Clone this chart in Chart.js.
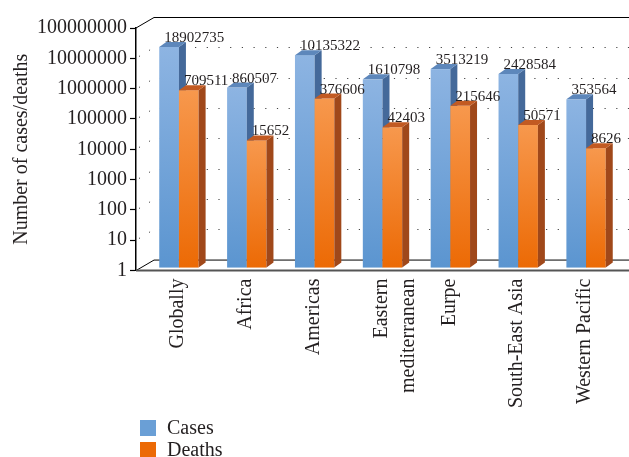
<!DOCTYPE html>
<html>
<head>
<meta charset="utf-8">
<script src="https://cdn.jsdelivr.net/npm/chart.js@4.4.0/dist/chart.umd.min.js"></script>
<style>
  html, body { margin: 0; padding: 0; background: #fff; }
  #wrap { width: 629px; height: 457px; }
</style>
</head>
<body>
<div id="wrap"><canvas id="chart" width="629" height="457"></canvas></div>
<script>
// data
const regions = ['Globally', 'Africa', 'Americas', ['Eastern', 'mediterranean'], 'Eurpe', 'South-East Asia', 'Western Pacific'];
const cases = [18902735, 860507, 10135322, 1610798, 3513219, 2428584, 353564];
const deaths = [709511, 15652, 376606, 42403, 215646, 50571, 8626];
const yTicks = [1, 10, 100, 1000, 10000, 100000, 1000000, 10000000, 100000000];

const FONT = "'Liberation Serif', 'Times New Roman', serif";
const TEXT = '#231F20';

// fake 3D: wall depth, bar shift into the box, bar thickness
const WALL = { dx: 18, dy: -11 };
const SHIFT = { dx: 9, dy: -3 };
const DEPTH = { dx: 7, dy: -5 };

const barStyles = [
  { light: '#8DB4E2', dark: '#5B95D0', side: '#44699A', cap: '#5D87BB', legend: '#6A9FD6' },
  { light: '#F7984D', dark: '#EC6A05', side: '#A0481A', cap: '#C25A22', legend: '#EC6A05' }
];

function barBox(el) {
  const p = el.getProps(['x', 'y', 'base', 'width'], true);
  const left = p.x - p.width / 2 + SHIFT.dx;
  return { left: left, right: left + p.width, top: p.y + SHIFT.dy, bottom: p.base + SHIFT.dy };
}

const wallsPlugin = {
  id: 'walls',
  beforeDatasetsDraw(chart) {
    const ctx = chart.ctx, ca = chart.chartArea, y = chart.scales.y;
    const right = chart.width;
    ctx.save();
    // dotted gridlines on side and back wall
    ctx.strokeStyle = '#444';
    ctx.lineWidth = 1;
    ctx.setLineDash([1.2, 10.5]);
    yTicks.slice(1, -1).forEach(v => {
      const py = Math.round(y.getPixelForValue(v)) + 0.5;
      ctx.beginPath();
      ctx.moveTo(ca.left + 3, py - 2);
      ctx.lineTo(ca.left + WALL.dx, py + WALL.dy);
      ctx.lineTo(right, py + WALL.dy);
      ctx.stroke();
    });
    ctx.setLineDash([]);
    // top frame
    ctx.strokeStyle = '#000';
    ctx.beginPath();
    ctx.moveTo(ca.left, ca.top);
    ctx.lineTo(ca.left + WALL.dx, ca.top + WALL.dy + 0.5);
    ctx.lineTo(right, ca.top + WALL.dy + 0.5);
    ctx.stroke();
    // floor
    ctx.beginPath();
    ctx.moveTo(ca.left, ca.bottom);
    ctx.lineTo(ca.left + WALL.dx, ca.bottom + WALL.dy + 0.5);
    ctx.lineTo(right, ca.bottom + WALL.dy + 0.5);
    ctx.stroke();
    ctx.strokeStyle = '#555';
    ctx.lineWidth = 2;
    ctx.beginPath();
    ctx.moveTo(ca.left, ca.bottom);
    ctx.lineTo(right, ca.bottom);
    ctx.stroke();
    ctx.restore();
  },
  // 3D boxes, series by series so the orange fronts cover the blue sides
  afterDatasetsDraw(chart) {
    const ctx = chart.ctx;
    ctx.save();
    chart.data.datasets.forEach((ds, i) => {
      const st = barStyles[i];
      chart.getDatasetMeta(i).data.forEach(el => {
        const b = barBox(el);
        const g = ctx.createLinearGradient(0, b.top, 0, b.bottom);
        g.addColorStop(0, st.light);
        g.addColorStop(1, st.dark);
        ctx.fillStyle = g;
        ctx.fillRect(b.left, b.top, b.right - b.left, b.bottom - b.top);
        ctx.fillStyle = st.side;
        ctx.beginPath();
        ctx.moveTo(b.right, b.top);
        ctx.lineTo(b.right + DEPTH.dx, b.top + DEPTH.dy);
        ctx.lineTo(b.right + DEPTH.dx, b.bottom + DEPTH.dy);
        ctx.lineTo(b.right, b.bottom);
        ctx.closePath();
        ctx.fill();
        ctx.fillStyle = st.cap;
        ctx.beginPath();
        ctx.moveTo(b.left, b.top);
        ctx.lineTo(b.left + DEPTH.dx, b.top + DEPTH.dy);
        ctx.lineTo(b.right + DEPTH.dx, b.top + DEPTH.dy);
        ctx.lineTo(b.right, b.top);
        ctx.closePath();
        ctx.fill();
      });
    });
    // value labels
    ctx.font = '15px ' + FONT;
    ctx.fillStyle = TEXT;
    ctx.textAlign = 'left';
    ctx.textBaseline = 'alphabetic';
    chart.data.datasets.forEach((ds, i) => {
      chart.getDatasetMeta(i).data.forEach((el, j) => {
        const b = barBox(el);
        ctx.fillText(String(ds.data[j]), b.left + 5, b.top - 5);
      });
    });
    ctx.restore();
  }
};

const legendPlugin = {
  id: 'stackedLegend',
  afterDraw(chart) {
    const ctx = chart.ctx;
    ctx.save();
    ctx.font = '20px ' + FONT;
    ctx.textBaseline = 'middle';
    ctx.textAlign = 'left';
    chart.data.datasets.forEach((ds, i) => {
      const cy = 428 + i * 22;
      ctx.fillStyle = barStyles[i].legend;
      ctx.fillRect(140, cy - 8, 16, 16);
      ctx.fillStyle = TEXT;
      ctx.fillText(ds.label, 167, cy + 1);
    });
    ctx.restore();
  }
};

new Chart(document.getElementById('chart'), {
  type: 'bar',
  data: {
    labels: regions,
    datasets: [
      { label: 'Cases', data: cases, backgroundColor: 'rgba(0,0,0,0)', borderWidth: 0 },
      { label: 'Deaths', data: deaths, backgroundColor: 'rgba(0,0,0,0)', borderWidth: 0 }
    ]
  },
  options: {
    responsive: false,
    animation: false,
    devicePixelRatio: 1,
    categoryPercentage: 0.58,
    barPercentage: 1,
    layout: { padding: { left: 10, right: 18, top: 28, bottom: 49 } },
    plugins: { legend: { display: false }, tooltip: { enabled: false } },
    scales: {
      x: {
        grid: { display: false },
        border: { display: false },
        ticks: {
          autoSkip: false, maxRotation: 90, minRotation: 90, padding: 0, labelOffset: 8,
          font: { family: FONT, size: 20, lineHeight: 1.35 }, color: TEXT
        }
      },
      y: {
        type: 'logarithmic',
        min: 1,
        max: 100000000,
        afterBuildTicks: s => { s.ticks = yTicks.map(v => ({ value: v })); },
        ticks: { callback: v => String(v), font: { family: FONT, size: 20 }, color: TEXT, padding: 3 },
        grid: { drawOnChartArea: false, tickLength: 6, color: '#000', tickWidth: 1.2 },
        border: { color: '#000', width: 1.5 },
        title: {
          display: true, text: 'Number of cases/deaths',
          font: { family: FONT, size: 20 }, color: TEXT, padding: { top: 0, bottom: 0 }
        }
      }
    }
  },
  plugins: [wallsPlugin, legendPlugin]
});
</script>
</body>
</html>
